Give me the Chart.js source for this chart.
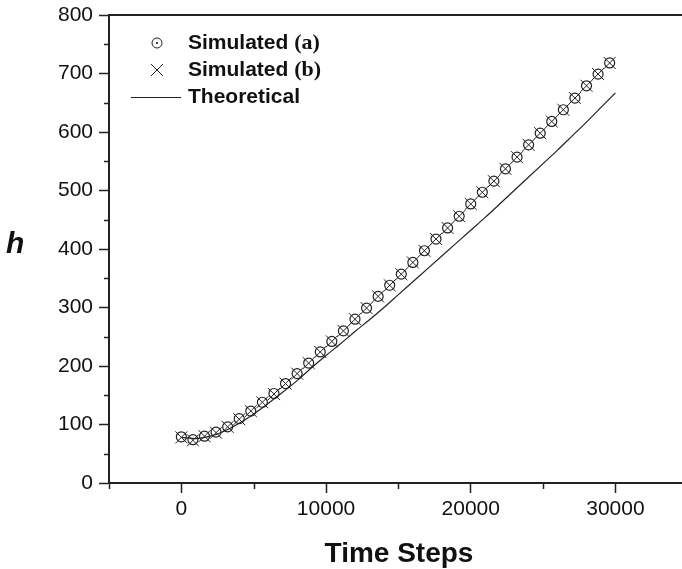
<!DOCTYPE html>
<html>
<head>
<meta charset="utf-8">
<script src="https://cdn.jsdelivr.net/npm/chart.js@4.4.1/dist/chart.umd.min.js"></script>
<style>
  html, body { margin: 0; padding: 0; background: #fff; }
  #wrap { width: 682px; height: 569px; position: relative; }
</style>
</head>
<body>
<div id="wrap"><canvas id="hChart"></canvas></div>
<script>
// simulated runs, one point every 800 steps
const simSteps = [0, 800, 1600, 2400, 3200, 4000, 4800, 5600, 6400, 7200,
  8000, 8800, 9600, 10400, 11200, 12000, 12800, 13600, 14400, 15200,
  16000, 16800, 17600, 18400, 19200, 20000, 20800, 21600, 22400, 23200,
  24000, 24800, 25600, 26400, 27200, 28000, 28800, 29600];
const simA = [79, 74, 80, 87, 96, 110, 123, 138, 153, 170,
  187, 205, 224, 242, 260, 280, 299, 319, 338, 357,
  377, 397, 417, 436, 456, 477, 497, 516, 537, 557,
  578, 598, 618, 638, 658, 679, 699, 718];
const simB = [78, 73, 80, 86, 96, 109, 123, 138, 152, 170,
  187, 205, 224, 242, 260, 280, 299, 319, 338, 357,
  377, 397, 417, 436, 456, 477, 497, 516, 537, 557,
  578, 598, 618, 638, 658, 679, 699, 718];

// theoretical curve
const theoSteps = [0, 1000, 2000, 3000, 4000, 5000, 6000, 7000, 8000, 9000,
  10000, 11000, 12000, 13000, 14000, 15000, 16000, 17000, 18000, 19000,
  20000, 21000, 22000, 23000, 24000, 25000, 26000, 27000, 28000, 29000, 30000];
const theo = [78, 76, 80, 89, 102, 118, 136, 155, 175, 197,
  218, 238, 259, 279, 300, 322, 344, 366, 388, 410,
  432, 454, 477, 500, 523, 546, 569, 593, 617, 642, 667];

const xTicks = [0, 10000, 20000, 30000];
const xMinor = [-5000, 5000, 15000, 25000];
const yMinor = [50, 150, 250, 350, 450, 550, 650, 750];

const ink = '#222';
const sans = '"Liberation Sans", Arial, sans-serif';

/* ───────────── extras drawn on top: frame, minor ticks, labels, legend ───────────── */
const extras = {
  id: 'extras',
  afterDraw(c) {
    const ctx = c.ctx, a = c.chartArea;
    const xs = c.scales.x, ys = c.scales.y;
    ctx.save();
    ctx.strokeStyle = ink;
    ctx.fillStyle = '#111';

    // top frame line
    ctx.lineWidth = 2;
    ctx.beginPath();
    ctx.moveTo(a.left - 1, a.top);
    ctx.lineTo(c.width, a.top);
    ctx.stroke();

    // minor ticks
    ctx.lineWidth = 1.5;
    ctx.beginPath();
    xMinor.forEach(v => {
      const px = Math.round(xs.getPixelForValue(v)) + 0.5;
      ctx.moveTo(px, a.bottom);
      ctx.lineTo(px, a.bottom + 6);
    });
    yMinor.forEach(v => {
      const py = Math.round(ys.getPixelForValue(v)) + 0.5;
      ctx.moveTo(a.left, py);
      ctx.lineTo(a.left - 5, py);
    });
    ctx.stroke();

    // axis titles
    ctx.font = 'bold italic 30px ' + sans;
    ctx.textAlign = 'left';
    ctx.textBaseline = 'alphabetic';
    ctx.fillText('h', 6, 253);

    ctx.font = 'bold 28px ' + sans;
    ctx.textAlign = 'center';
    ctx.fillText('Time Steps', 399, 562);

    // legend
    ctx.lineWidth = 1;
    ctx.beginPath();
    ctx.arc(157, 43, 5, 0, Math.PI * 2);
    ctx.stroke();
    ctx.beginPath();
    ctx.arc(157, 43, 1, 0, Math.PI * 2);
    ctx.fill();

    ctx.beginPath();
    ctx.moveTo(151, 64); ctx.lineTo(163, 76);
    ctx.moveTo(163, 64); ctx.lineTo(151, 76);
    ctx.stroke();

    ctx.beginPath();
    ctx.moveTo(131, 97.5); ctx.lineTo(181, 97.5);
    ctx.stroke();

    ctx.textAlign = 'left';
    ctx.textBaseline = 'middle';
    ctx.font = 'bold 21px ' + sans;
    const w = ctx.measureText('Simulated ').width;
    ctx.fillText('Simulated', 188, 43);
    ctx.fillText('Simulated', 188, 70);
    ctx.fillText('Theoretical', 188, 97);
    ctx.font = 'bold 22px "Liberation Serif", "Times New Roman", serif';
    ctx.fillText('(a)', 188 + w, 43);
    ctx.fillText('(b)', 188 + w, 70);
    ctx.restore();
  }
};

function createChart() {
  const ctx = document.getElementById('hChart');
  return new Chart(ctx, {
    type: 'scatter',
    data: {
      datasets: [
        {
          label: 'Theoretical',
          data: theoSteps.map((s, i) => ({ x: s, y: theo[i] })),
          showLine: true,
          borderColor: ink,
          borderWidth: 1.2,
          pointRadius: 0,
          cubicInterpolationMode: 'monotone'
        },
        {
          label: 'Simulated (a)',
          data: simSteps.map((s, i) => ({ x: s, y: simA[i] })),
          pointStyle: 'circle',
          pointRadius: 5,
          borderColor: ink,
          borderWidth: 1.2,
          backgroundColor: 'rgba(0,0,0,0)'
        },
        {
          label: 'Simulated (b)',
          data: simSteps.map((s, i) => ({ x: s, y: simB[i] })),
          pointStyle: 'crossRot',
          pointRadius: 8.5,
          borderColor: ink,
          borderWidth: 1
        }
      ]
    },
    options: {
      responsive: true,
      maintainAspectRatio: false,
      animation: false,
      layout: { autoPadding: false, padding: { top: 15, right: 0, left: 0, bottom: 0 } },
      plugins: { legend: { display: false }, tooltip: { enabled: false } },
      scales: {
        x: {
          type: 'linear',
          min: -5000,
          max: 34600,
          afterBuildTicks: s => { s.ticks = xTicks.map(v => ({ value: v })); },
          afterFit: s => { s.height = 86; s.paddingLeft = 0; s.paddingRight = 0; },
          border: { display: true, color: ink, width: 2 },
          grid: { drawOnChartArea: false, drawTicks: true, tickLength: 10, tickWidth: 1.5, tickColor: ink },
          ticks: {
            color: '#111', padding: 4, maxRotation: 0,
            font: { family: sans, size: 21 },
            callback: v => String(v)
          }
        },
        y: {
          min: 0,
          max: 800,
          ticks: { stepSize: 100, color: '#111', padding: 6, font: { family: sans, size: 21 } },
          afterFit: s => { s.width = 109; s.paddingTop = 0; s.paddingBottom = 0; },
          border: { display: true, color: ink, width: 2 },
          grid: { drawOnChartArea: false, drawTicks: true, tickLength: 10, tickWidth: 1.5, tickColor: ink }
        }
      }
    },
    plugins: [extras]
  });
}

document.addEventListener('DOMContentLoaded', () => {
  createChart();
});
</script>
</body>
</html>
